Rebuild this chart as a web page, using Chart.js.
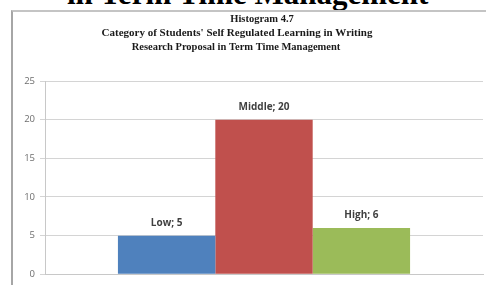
<!DOCTYPE html>
<html>
<head>
<meta charset="utf-8">
<script src="https://cdn.jsdelivr.net/npm/chart.js@4/dist/chart.umd.min.js"></script>
<style>
  html, body { margin: 0; padding: 0; background: #fff; width: 486px; height: 285px; overflow: hidden; }
  #heading { position: absolute; left: 67px; top: -22px; font-family: "Liberation Serif", serif; font-weight: bold; font-size: 31px; line-height: 31px; white-space: nowrap; color: #000; }
  #frame { position: absolute; left: 11px; top: 10px; width: 475px; height: 275px; border-left: 2px solid #a6a6a6; border-top: 2px solid #c4c4c4; }
  #wrap { position: absolute; left: 0; top: 0; width: 473px; height: 273px; }
</style>
</head>
<body>
<div id="heading">in Term Time Management</div>
<div id="frame"><div id="wrap"><canvas id="c" width="473" height="273"></canvas></div></div>
<script>
const titleLines = ["Histogram 4.7", "Category of Students' Self Regulated Learning in Writing", "Research Proposal in Term Time Management"];
const categories = ["Low", "Middle", "High"];
const values = [5, 20, 6];
const yTicks = [0, 5, 10, 15, 20, 25];
const colors = ["#4F81BD", "#C0504D", "#9BBB59"];

const titlePlugin = {
  id: 'titlePlugin',
  afterDraw(chart) {
    const ctx = chart.ctx;
    ctx.save();
    ctx.fillStyle = '#1a1a1a';
    ctx.textAlign = 'center';
    ctx.textBaseline = 'middle';
    const xs = [249, 224, 223];
    const ys = [7, 21, 35];
    const sizes = [10.5, 11, 10.5];
    titleLines.forEach((t, i) => {
      ctx.font = 'bold ' + sizes[i] + 'px "Liberation Serif", serif';
      ctx.fillText(t, xs[i], ys[i]);
    });
    ctx.restore();
  }
};

const labelPlugin = {
  id: 'labelPlugin',
  afterDatasetsDraw(chart) {
    const ctx = chart.ctx;
    ctx.save();
    ctx.fillStyle = '#404040';
    ctx.font = 'bold 10px "Open Sans", sans-serif';
    ctx.textAlign = 'center';
    ctx.textBaseline = 'middle';
    chart.data.datasets.forEach((ds, i) => {
      const el = chart.getDatasetMeta(i).data[0];
      ctx.fillText(ds.label + '; ' + ds.data[0], el.x, el.y - 12.5);
    });
    ctx.restore();
  }
};

new Chart(document.getElementById('c'), {
  type: 'bar',
  data: {
    labels: [''],
    datasets: categories.map((c, i) => ({
      label: c,
      data: [values[i]],
      backgroundColor: colors[i],
      borderWidth: 0
    }))
  },
  options: {
    responsive: false,
    animation: false,
    devicePixelRatio: 1,
    layout: { padding: { left: 0, right: 3, top: 69, bottom: 0 } },
    categoryPercentage: 0.667,
    barPercentage: 1.0,
    plugins: { legend: { display: false }, title: { display: false }, tooltip: { enabled: false } },
    scales: {
      x: {
        grid: { display: false },
        border: { display: true, color: '#c8c8c8', width: 1 },
        ticks: { display: false },
        afterFit(s) { s.height = 8; }
      },
      y: {
        min: 0, max: 25,
        afterBuildTicks(s) { s.ticks = yTicks.map(v => ({ value: v })); },
        afterFit(s) { s.width = 32; },
        grid: { color: '#d4d4d4', lineWidth: 1, tickLength: 5, drawTicks: true },
        border: { display: true, color: '#c8c8c8', width: 1 },
        ticks: { color: '#6e6e6e', padding: 5, font: { family: '"Open Sans", sans-serif', size: 9.5 } }
      }
    }
  },
  plugins: [titlePlugin, labelPlugin]
});
</script>
</body>
</html>
